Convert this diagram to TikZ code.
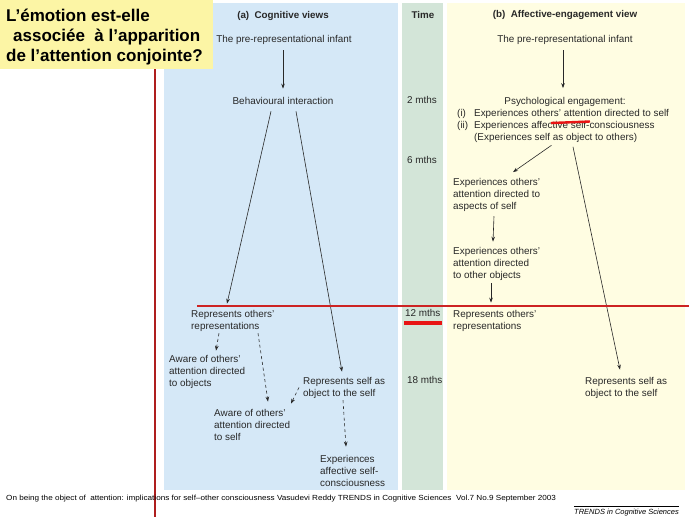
\documentclass[tikz,border=0pt]{standalone}
\usepackage{fontspec}
\setmainfont{Liberation Sans}
\newfontfamily\sourcefont[FakeStretch=1.1]{Liberation Sans}
\usetikzlibrary{arrows.meta}

\definecolor{cogblue}{RGB}{213,232,247}
\definecolor{timegreen}{RGB}{211,229,216}
\definecolor{affyellow}{RGB}{255,253,226}
\definecolor{titleyellow}{RGB}{252,245,165}
\definecolor{linered}{RGB}{205,35,35}
\definecolor{barred}{RGB}{232,20,20}
\definecolor{inkgray}{RGB}{40,40,40}

\begin{document}
\begin{tikzpicture}[x=1pt, y=-1pt,
    lbl/.style={inner sep=0pt, text=inkgray, font=\fontsize{9.9}{12}\selectfont, align=left, anchor=base west},
    clbl/.style={lbl, anchor=base, align=center},
    head/.style={clbl, font=\fontsize{9.8}{12}\selectfont\bfseries},
    arr/.style={draw=inkgray, line width=0.6pt, -{Stealth[length=5pt, width=3.6pt]}},
    darr/.style={arr, dash pattern=on 3pt off 2.8pt}
  ]
  \useasboundingbox (0,0) rectangle (689,517);
  \fill[cogblue] (164,3) rectangle (398,490);
  \fill[timegreen] (402,3) rectangle (443,490);
  \fill[affyellow] (447,3) rectangle (685,490);
  \draw[linered!85!black, line width=1.5pt] (155,69) -- (155,517);

  % (a) cognitive views
  \node[head] (cogtitle) at (283,18) {(a)\ \ Cognitive views};
  \node[clbl] (preA) at (284,42.5) {The pre-representational infant};
  \node[clbl] (behav) at (283,104) {Behavioural interaction};
  \node[lbl] (repothersA) at (191,329) {Represents others’\\representations};
  \node[lbl] (awareobj) at (169,386) {Aware of others’\\attention directed\\to objects};
  \node[lbl] (awareself) at (214,440) {Aware of others’\\attention directed\\to self};
  \node[lbl] (repselfA) at (303,396) {Represents self as\\object to the self};
  \node[lbl] (expaff) at (320,486) {Experiences\\affective self-\\consciousness};

  \draw[arr] ([xshift=-1pt,yshift=-5.5pt]preA.south) -- ([yshift=8pt]behav.north);
  \draw[arr] ([xshift=-12pt,yshift=-7pt]behav.south) -- ([xshift=36pt,yshift=6pt]repothersA.north west);
  \draw[arr] ([xshift=13pt,yshift=-7pt]behav.south) -- ([xshift=39pt,yshift=5pt]repselfA.north west);
  \draw[darr] ([xshift=28pt,yshift=-2pt]repothersA.south west) -- ([xshift=47pt,yshift=4pt]awareobj.north west);
  \draw[darr] ([xshift=67pt,yshift=-2pt]repothersA.south west) -- ([xshift=54pt,yshift=7pt]awareself.north west);
  \draw[darr] ([xshift=-4pt]repselfA.west) -- ([xshift=77pt,yshift=5pt]awareself.north west);
  \draw[darr] ([xshift=40pt,yshift=-2pt]repselfA.south west) -- ([xshift=26pt,yshift=8pt]expaff.north west);

  % time
  \node[head] (time) at (423,18.5) {Time};
  \node[lbl] (m2) at (407,103.5) {2 mths};
  \node[lbl] (m6) at (407,163.5) {6 mths};
  \node[lbl] (m12) at (405,316) {12 mths};
  \node[lbl] (m18) at (407,383) {18 mths};
  \fill[barred] (404,320.5) rectangle (442,324.5);

  % (b) affective-engagement view
  \node[head] (afftitle) at (565,17.5) {(b)\ \ Affective-engagement view};
  \node[clbl] (preB) at (565,42.5) {The pre-representational infant};
  \node[clbl] (psych) at (565,104.5) {Psychological engagement:};
  \node[lbl] (psychlist) at (457,116) {\begin{tabular}[t]{@{}l@{\hspace{6pt}}l@{}}
    (i) & Experiences others’ attention directed to self\\
    (ii) & Experiences affective self-consciousness\\
    & (Experiences self as object to others)
  \end{tabular}};
  \node[lbl] (aspects) at (453,209.5) {Experiences others’\\attention directed to\\aspects of self};
  \node[lbl] (otherobj) at (453,278) {Experiences others’\\attention directed\\to other objects};
  \node[lbl] (repothersB) at (453,329) {Represents others’\\representations};
  \node[lbl] (repselfB) at (585,396) {Represents self as\\object to the self};
  \draw[barred, line width=2.4pt] (551,123) -- (590,121.5);

  \draw[arr] ([xshift=-2pt,yshift=-5.5pt]preB.south) -- ([xshift=-2pt,yshift=9pt]psych.north);
  \draw[arr] ([xshift=94.5pt,yshift=-1.5pt]psychlist.south west) -- ([xshift=60pt,yshift=6pt]aspects.north west);
  \draw[arr] ([xshift=116pt,yshift=-3pt]psychlist.south west) -- ([xshift=35pt,yshift=7pt]repselfB.north west);
  \draw[arr] ([xshift=41pt,yshift=-4.5pt]aspects.south west) -- ([xshift=40pt,yshift=5pt]otherobj.north west);
  \draw[arr] ([xshift=38pt,yshift=-3pt]otherobj.south west) -- ([xshift=38pt,yshift=7pt]repothersB.north west);

  \draw[linered, line width=1.3pt] (197,306) -- (689,306);

  % question box
  \fill[titleyellow] (0,0) rectangle (213,69);
  \node[anchor=base west, inner sep=0pt, align=left, text=black,
    font=\fontsize{17}{20}\selectfont\bfseries] (question) at (6,61.7)
    {L’émotion est-elle\\\hspace*{7pt}associée\ \ à l’apparition\\de l’attention conjointe?};

  % source
  \node[lbl, text=black, font=\sourcefont\fontsize{7.4}{9}\selectfont] (source) at (6,500.5)
    {On being the object of\ \ attention: implications for self–other consciousness Vasudevi Reddy TRENDS in Cognitive Sciences\ \ Vol.7 No.9 September 2003};
  \node[lbl, anchor=base east, text=black, font=\fontsize{7.5}{9}\selectfont\itshape] (journal) at (679,514) {TRENDS in Cognitive Sciences};
  \draw[line width=0.5pt] ([yshift=2pt]journal.north west) -- ([yshift=2pt]journal.north east);
\end{tikzpicture}
\end{document}
